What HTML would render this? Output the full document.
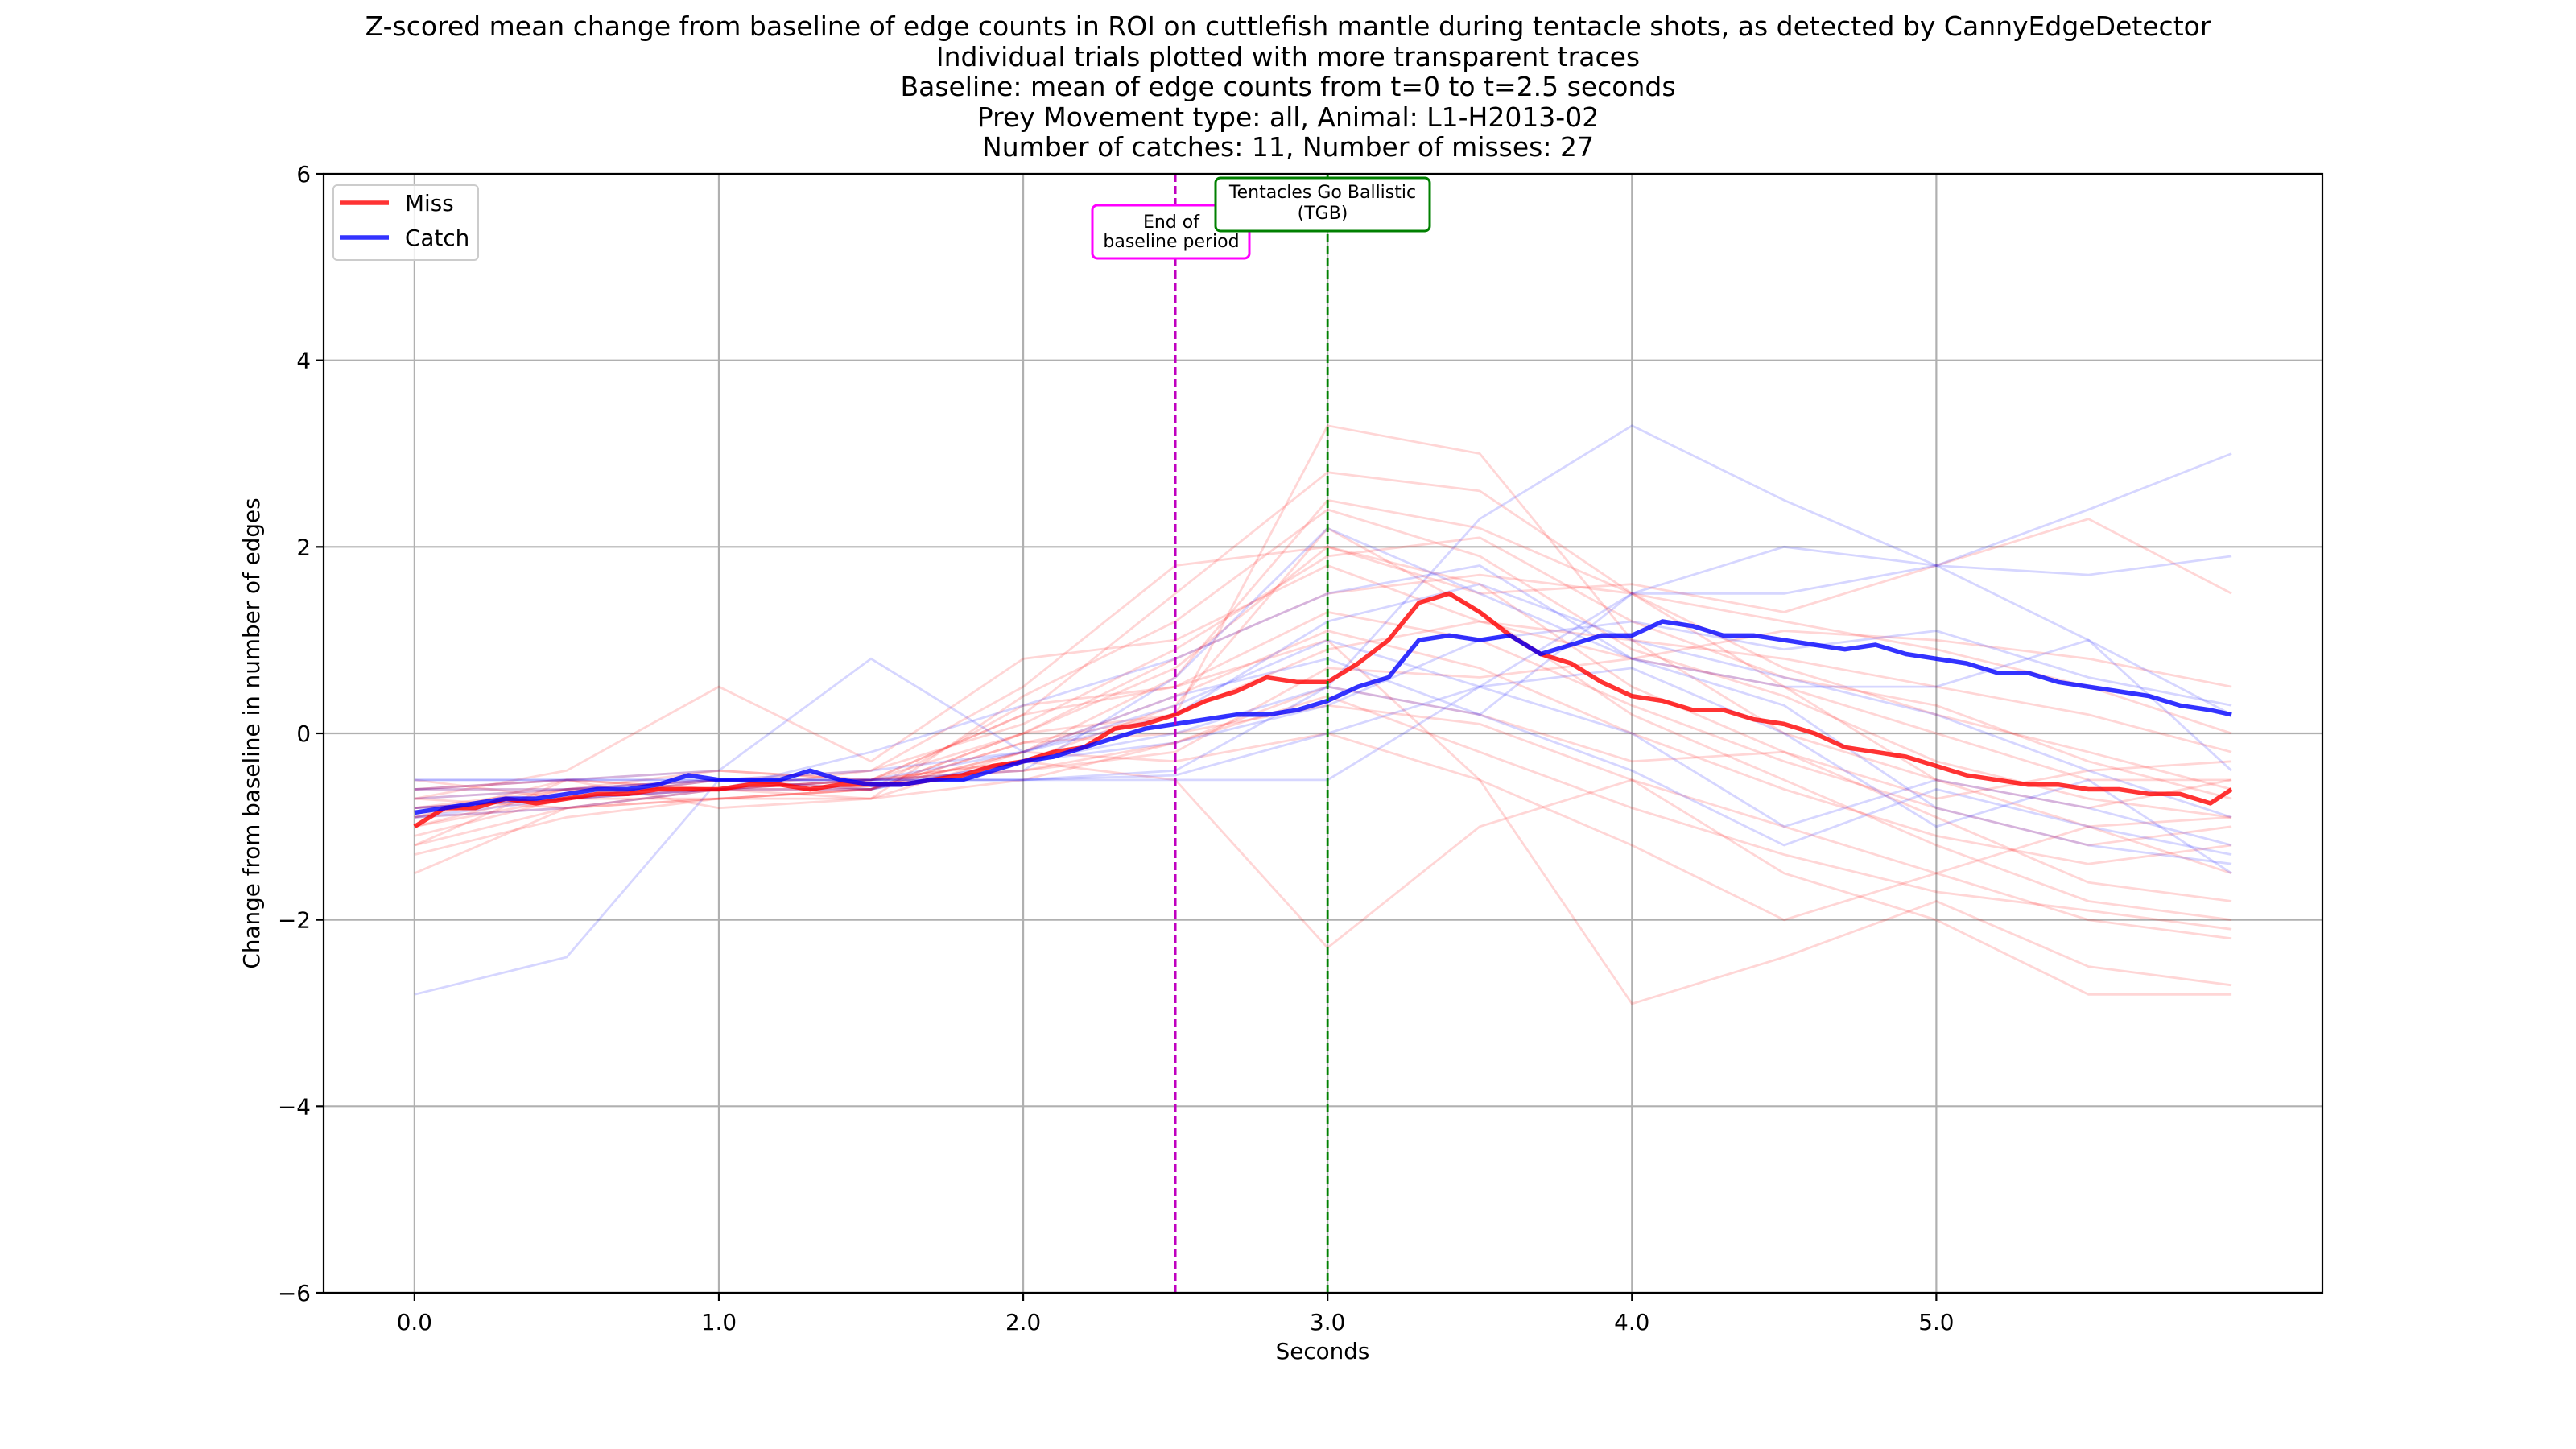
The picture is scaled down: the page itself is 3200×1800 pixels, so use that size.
<!DOCTYPE html>
<html><head><meta charset="utf-8"><style>
html,body{margin:0;padding:0;background:#fff}
svg{display:block;font-family:"DejaVu Sans","Liberation Sans",sans-serif}
</style></head><body>
<svg id="chart" width="3200" height="1800" viewBox="0 0 3200 1800" xmlns="http://www.w3.org/2000/svg">
<g id="titles" font-size="33" text-anchor="middle" fill="#000">
<text x="1600" y="44">Z-scored mean change from baseline of edge counts in ROI on cuttlefish mantle during tentacle shots, as detected by CannyEdgeDetector</text>
<text x="1600" y="82">Individual trials plotted with more transparent traces</text>
<text x="1600" y="119">Baseline: mean of edge counts from t=0 to t=2.5 seconds</text>
<text x="1600" y="157">Prey Movement type: all, Animal: L1-H2013-02</text>
<text x="1600" y="194">Number of catches: 11, Number of misses: 27</text>
</g>
<g id="grid"></g>
<g id="traces"></g>
<g id="means"></g>
<g id="marks"></g>
<rect x="402" y="216" width="2483" height="1390" fill="none" stroke="#000" stroke-width="2.2"/>
<g id="ticks" font-size="27.8"></g>
<text x="1643" y="1688" font-size="27.8" text-anchor="middle">Seconds</text>
<text transform="translate(322,911) rotate(-90)" font-size="27.8" text-anchor="middle">Change from baseline in number of edges</text>
<g>
<rect x="414" y="230" width="180" height="93" rx="5" fill="#fff" fill-opacity="0.8" stroke="#ccc" stroke-width="2"/>
<line x1="422" y1="252" x2="483" y2="252" stroke="#ff0000" stroke-opacity="0.8" stroke-width="5.5"/>
<text x="503" y="262" font-size="27.8">Miss</text>
<line x1="422" y1="295" x2="483" y2="295" stroke="#0000ff" stroke-opacity="0.8" stroke-width="5.5"/>
<text x="503" y="305" font-size="27.8">Catch</text>
</g>
</svg>
<script>
const timeGrid=[0,0.5,1,1.5,2,2.5,3,3.5,4,4.5,5,5.5,5.97];
const missTrials=[
[-0.8,-0.6,-0.5,-0.5,0.2,1.5,2.8,2.6,1.5,0.5,-0.5,-1.0,-1.5],
[-1.5,-0.8,-0.7,-0.6,0.0,0.2,3.3,3.0,1.0,0,-0.5,-0.8,-0.5],
[-1.2,-0.5,-0.6,-0.4,0.5,1.8,2.0,1.5,1.6,1.3,1.8,2.3,1.5],
[-0.5,-0.7,-0.5,-0.6,0.3,0.5,1.0,-0.5,-2.9,-2.4,-1.8,-2.5,-2.7],
[-0.9,-0.8,-0.6,-0.5,-0.3,-0.5,-2.3,-1.0,-0.5,-1.5,-2.0,-2.8,-2.8],
[-0.7,-0.4,0.5,-0.3,0.8,1.0,1.8,1.2,0.8,0.5,0,-0.5,-0.5],
[-1.0,-0.6,-0.6,-0.5,0.2,0.5,1.3,1.0,0.3,-0.3,-0.8,-1.2,-1.0],
[-0.6,-0.6,-0.4,-0.5,-0.4,-0.2,0.7,0.6,0.8,1.1,1.0,0.8,0.5],
[-0.8,-0.7,-0.6,-0.6,-0.1,0.0,0.3,0.1,-0.5,-1.0,-1.5,-2.0,-2.2],
[-0.6,-0.5,-0.4,-0.5,-0.3,0.3,2.2,1.3,0.2,-0.5,-1.2,-1.8,-2.0],
[-1.3,-0.9,-0.7,-0.6,0.0,0.8,1.5,1.7,1.5,1.2,0.9,0.5,0.0],
[-0.9,-0.5,-0.8,-0.7,-0.5,-0.1,0.5,0.2,-0.3,-0.2,-0.7,-0.4,-0.3],
[-1.1,-0.7,-0.6,-0.6,-0.2,0.6,2.5,2.2,1.5,0.7,0.2,-0.2,-0.6],
[-0.7,-0.8,-0.7,-0.7,-0.2,-0.3,0.0,-0.5,-1.2,-2.0,-1.5,-1.0,-0.9],
[-0.9,-0.6,-0.5,-0.4,0.1,0.9,1.9,2.1,1.2,0.6,0.3,-0.3,-0.7],
[-1.0,-0.7,-0.7,-0.6,-0.2,0.4,1.1,0.7,0.0,-0.6,-1.1,-1.4,-1.2],
[-0.6,-0.5,-0.6,-0.5,0.0,0.7,2.0,1.6,0.5,-0.2,-0.9,-1.6,-1.8],
[-0.8,-0.7,-0.5,-0.6,-0.1,0.2,0.9,1.2,1.0,0.8,0.5,0.2,-0.2],
[-1.2,-0.8,-0.6,-0.5,-0.4,-0.1,0.4,-0.2,-0.8,-1.3,-1.7,-1.9,-2.1],
[-0.7,-0.6,-0.6,-0.7,0.4,1.2,2.4,1.9,0.9,0.4,-0.3,-0.7,-0.9]];
const catchTrials=[
[-2.8,-2.4,-0.5,-0.5,-0.5,-0.4,0.5,2.3,3.3,2.5,1.8,2.4,3.0],
[-0.5,-0.5,-0.5,-0.5,-0.5,-0.45,0.0,0.5,1.5,2.0,1.8,1.0,-0.4],
[-0.8,-0.7,-0.6,-0.2,0.3,0.8,1.5,1.8,0.8,0.3,-0.8,-1.2,-1.4],
[-0.6,-0.5,-0.4,0.8,-0.2,0.3,1.0,0.5,0.7,0.0,-1.0,-0.5,-1.5],
[-0.9,-0.7,-0.6,-0.6,-0.3,0.0,0.5,0.2,1.5,1.5,1.8,1.7,1.9],
[-0.7,-0.6,-0.5,-0.5,-0.5,-0.5,-0.5,0.5,0.0,-1.0,-0.5,-0.8,-1.2],
[-0.5,-0.5,-0.5,-0.5,-0.4,0.6,2.2,1.5,0.8,0.5,0.5,1.0,0.2],
[-0.9,-0.8,-0.6,-0.5,-0.2,0.2,1.2,1.6,1.0,0.6,0.2,-0.4,-0.9],
[-0.6,-0.6,-0.5,-0.6,-0.3,-0.1,0.3,1.0,1.2,0.9,1.1,0.6,0.3],
[-0.8,-0.7,-0.5,-0.4,-0.2,0.4,0.8,0.2,-0.4,-1.2,-0.6,-1.0,-1.3]];
const meanTime=[0,0.1,0.2,0.3,0.4,0.5,0.6,0.7,0.8,0.9,1.0,1.1,1.2,1.3,1.4,1.5,1.6,1.7,1.8,1.9,2.0,2.1,2.2,2.3,2.4,2.5,2.6,2.7,2.8,2.9,3.0,3.1,3.2,3.3,3.4,3.5,3.6,3.7,3.8,3.9,4.0,4.1,4.2,4.3,4.4,4.5,4.6,4.7,4.8,4.9,5.0,5.1,5.2,5.3,5.4,5.5,5.6,5.7,5.8,5.9,5.97];
const missMean=[-1.0,-0.8,-0.8,-0.7,-0.75,-0.7,-0.65,-0.65,-0.6,-0.6,-0.6,-0.55,-0.55,-0.6,-0.55,-0.55,-0.55,-0.5,-0.45,-0.35,-0.3,-0.2,-0.15,0.05,0.1,0.2,0.35,0.45,0.6,0.55,0.55,0.75,1.0,1.4,1.5,1.3,1.05,0.85,0.75,0.55,0.4,0.35,0.25,0.25,0.15,0.1,0.0,-0.15,-0.2,-0.25,-0.35,-0.45,-0.5,-0.55,-0.55,-0.6,-0.6,-0.65,-0.65,-0.75,-0.6];
const catchMean=[-0.85,-0.8,-0.75,-0.7,-0.7,-0.65,-0.6,-0.6,-0.55,-0.45,-0.5,-0.5,-0.5,-0.4,-0.5,-0.55,-0.55,-0.5,-0.5,-0.4,-0.3,-0.25,-0.15,-0.05,0.05,0.1,0.15,0.2,0.2,0.25,0.35,0.5,0.6,1.0,1.05,1.0,1.05,0.85,0.95,1.05,1.05,1.2,1.15,1.05,1.05,1.0,0.95,0.9,0.95,0.85,0.8,0.75,0.65,0.65,0.55,0.5,0.45,0.4,0.3,0.25,0.2];
const xTicks=[0,1,2,3,4,5];
const xTickLabels=["0.0","1.0","2.0","3.0","4.0","5.0"];
const yTicks=[-6,-4,-2,0,2,4,6];
const yTickLabels=["\u22126","\u22124","\u22122","0","2","4","6"];
const events=[2.5,3.0];

const NS="http://www.w3.org/2000/svg";
const L=402,R=2885,T=216,B=1606,X0=-0.2985,X1=6.2685,Y0=-6,Y1=6;
const sx=v=>L+(v-X0)/(X1-X0)*(R-L);
const sy=v=>B-(v-Y0)/(Y1-Y0)*(B-T);
function mk(tag,attrs,parent){const e=document.createElementNS(NS,tag);for(const k in attrs)e.setAttribute(k,attrs[k]);parent.appendChild(e);return e;}
const grid=document.getElementById('grid'),ticks=document.getElementById('ticks');
xTicks.forEach((t,i)=>{
 const g=mk('line',{x1:sx(t),x2:sx(t),y1:T,y2:B,stroke:'#b0b0b0','stroke-width':2.2},grid);
 
 
 const tk=mk('line',{x1:sx(t),x2:sx(t),y1:B,y2:B+10,stroke:'#000','stroke-width':2.2},ticks);
 
 
 const tx=mk('text',{x:sx(t),y:B+46,'text-anchor':'middle'},ticks);tx.textContent=xTickLabels[i];
 
 
});
yTicks.forEach((v,i)=>{
 const g=mk('line',{x1:L,x2:R,y1:sy(v),y2:sy(v),stroke:'#b0b0b0','stroke-width':2.2},grid);
 
 
 const tk=mk('line',{x1:L-10,x2:L,y1:sy(v),y2:sy(v),stroke:'#000','stroke-width':2.2},ticks);
 
 
 const tx=mk('text',{x:L-16,y:sy(v)+10,'text-anchor':'end'},ticks);tx.textContent=yTickLabels[i];
 
 
});
const pts=(ts,vs)=>ts.map((t,i)=>sx(t).toFixed(1)+','+sy(vs[i]).toFixed(1)).join(' ');
const tr=document.getElementById('traces');
missTrials.forEach(s=>{
 const p=mk('polyline',{points:pts(timeGrid,s),fill:'none',stroke:'#ff0000','stroke-opacity':0.16,'stroke-width':2.8},tr);
 
 
});
catchTrials.forEach(s=>{
 const p=mk('polyline',{points:pts(timeGrid,s),fill:'none',stroke:'#0000ff','stroke-opacity':0.16,'stroke-width':2.8},tr);
 
 
});
const mn=document.getElementById('means');
const pm=mk('polyline',{points:pts(meanTime,missMean),fill:'none',stroke:'#ff0000','stroke-opacity':0.8,'stroke-width':5.5,'stroke-linejoin':'round'},mn);


const pc=mk('polyline',{points:pts(meanTime,catchMean),fill:'none',stroke:'#0000ff','stroke-opacity':0.8,'stroke-width':5.5,'stroke-linejoin':'round'},mn);


const mk2=document.getElementById('marks');
const ev1=mk('line',{x1:sx(events[0]),x2:sx(events[0]),y1:T,y2:B,stroke:'#bf00bf','stroke-width':2.8,'stroke-dasharray':'10,5'},mk2);


const ev2=mk('line',{x1:sx(events[1]),x2:sx(events[1]),y1:T,y2:B,stroke:'#008000','stroke-width':2.8,'stroke-dasharray':'10,5'},mk2);


const b1=mk('rect',{x:1357,y:255,width:195,height:66,rx:6,fill:'#fff',stroke:'#ff00ff','stroke-width':3},mk2);


const t1=mk('text',{x:1455,y:283,'text-anchor':'middle','font-size':22},mk2);t1.textContent='End of';


const t1b=mk('text',{x:1455,y:307,'text-anchor':'middle','font-size':22},mk2);t1b.textContent='baseline period';


const b2=mk('rect',{x:1510,y:221,width:266,height:66,rx:6,fill:'#fff',stroke:'#008000','stroke-width':3},mk2);


const t2=mk('text',{x:1643,y:246,'text-anchor':'middle','font-size':22},mk2);t2.textContent='Tentacles Go Ballistic';


const t2b=mk('text',{x:1643,y:272,'text-anchor':'middle','font-size':22},mk2);t2b.textContent='(TGB)';


</script>
</body></html>
